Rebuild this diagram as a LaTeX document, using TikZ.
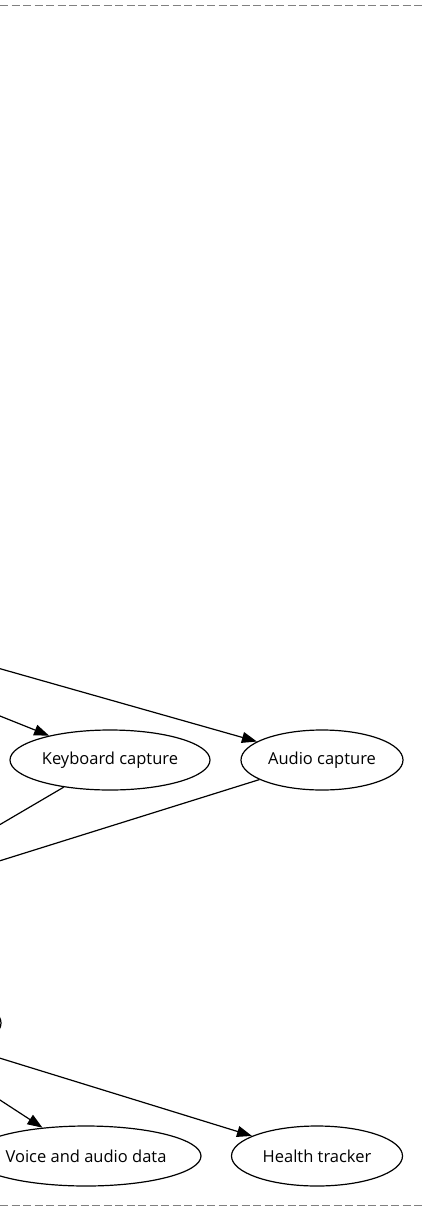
\documentclass[tikz,border=0pt]{standalone}
\usepackage{fontspec}
\setmainfont{Open Sans}
\usetikzlibrary{arrows.meta,shapes.geometric}
\begin{document}
\begin{tikzpicture}[x=1pt,y=-1pt,
  gnode/.style={draw, ellipse, line width=1.2pt, inner sep=0pt, minimum height=60pt, font=\fontsize{16.5}{19}\selectfont},
  gedge/.style={line width=1.2pt, -{Triangle[length=15pt,width=11pt]}},
  gline/.style={line width=1.2pt},
  frame/.style={draw=gray, line width=1pt, dash pattern=on 8pt off 3.5pt}]
\useasboundingbox (0,0) rectangle (422,1207);
\clip (0,0) rectangle (422,1207);
% frame lines
\coordinate (tl) at (0,6);
\coordinate (tr) at (422,6);
\coordinate (bl) at (0,1205.5);
\coordinate (br) at (422,1205.5);
\draw[frame] (tl) -- (tr);
\draw[frame] (bl) -- (br);
% nodes
\node[gnode, minimum width=200pt] (kb) at (110,760) {Keyboard capture};
\node[gnode, minimum width=162pt] (ac) at (322,760) {Audio capture};
\node[gnode, minimum width=230pt] (va) at (86,1156) {Voice and audio data};
\node[gnode, minimum width=171pt] (ht) at (317,1156) {Health tracker};
\node[gnode, minimum width=160pt] (hid) at (-79,1023) {};
% free ends off the left edge
\coordinate (s1) at (-20,708);
\coordinate (s2) at (-20,663);
\coordinate (o1) at (-40,848);
\coordinate (o2) at (-20,867);
\coordinate (s3) at (-20,1087);
\coordinate (s4) at (-20,1052);
% edges
\draw[gedge] (s1) -- (kb);
\draw[gedge] (s2) -- (ac);
\draw[gline] (kb) -- (o1);
\draw[gline] (ac) -- (o2);
\draw[gedge] (s3) -- (va);
\draw[gedge] (s4) -- (ht);
\end{tikzpicture}
\end{document}
